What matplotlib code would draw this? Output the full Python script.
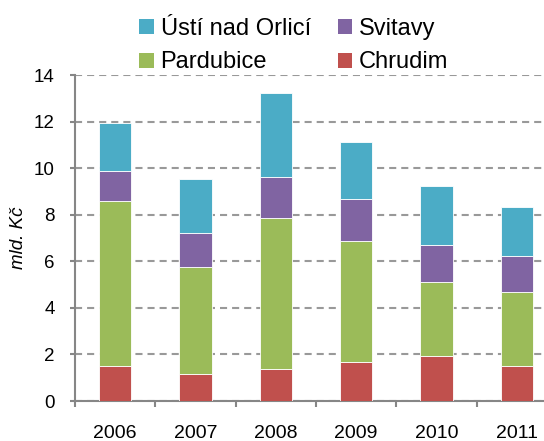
import matplotlib
matplotlib.use("Agg")
import matplotlib.pyplot as plt
from matplotlib.patches import Patch
import numpy as np

plt.rcParams['font.family'] = ['Liberation Sans', 'DejaVu Sans']

years = ["2006", "2007", "2008", "2009", "2010", "2011"]
chrudim = [1.52, 1.17, 1.36, 1.66, 1.92, 1.52]
pardubice = [7.07, 4.57, 6.50, 5.21, 3.18, 3.16]
svitavy = [1.30, 1.46, 1.77, 1.79, 1.61, 1.56]
usti = [2.03, 2.35, 3.59, 2.45, 2.54, 2.10]

series = [
    ("Chrudim", chrudim, "#C0504D"),
    ("Pardubice", pardubice, "#9BBB59"),
    ("Svitavy", svitavy, "#8064A2"),
    ("Ústí nad Orlicí", usti, "#4BACC6"),
]

fig = plt.figure(figsize=(5.44, 4.41), dpi=100)
ax = fig.add_axes([75/544, 40/441, 482/544, 326/441])

x = np.arange(len(years))
bottom = np.zeros(len(years))
handles = {}
for name, vals, col in series:
    ax.bar(x, vals, width=0.4, bottom=bottom, color=col, edgecolor="white",
           linewidth=0.6, zorder=3)
    bottom += np.array(vals)
    handles[name] = Patch(facecolor=col, edgecolor="none")

ax.set_xlim(-0.5, len(years) - 0.5)
ax.set_ylim(0, 14)
ax.set_yticks(np.arange(0, 15, 2))
ax.set_xticks(x)
ax.set_xticklabels(years, fontsize=14)
ax.set_xticks(np.arange(-0.5, len(years), 1), minor=True)
ax.tick_params(axis='x', which='major', length=0, pad=17)
ax.tick_params(axis='x', which='minor', length=4.5, width=1.5, color="#868686", direction='out')
ax.tick_params(axis='y', length=3.6, width=1.5, color="#868686", labelsize=13.5, pad=11)

ax.yaxis.grid(True, linestyle=(0, (3.4, 2.4)), color="#999999", linewidth=1.5, zorder=0)
ax.set_axisbelow(True)

for s in ["top", "right"]:
    ax.spines[s].set_visible(False)
for s in ["left", "bottom"]:
    ax.spines[s].set_color("#868686")
    ax.spines[s].set_linewidth(1.5)

ax.set_ylabel("mld. Kč", fontsize=13.5, style="italic", labelpad=5)

order = ["Ústí nad Orlicí", "Pardubice", "Svitavy", "Chrudim"]
fig.legend([handles[n] for n in order], order, ncol=2, frameon=False,
           fontsize=17, loc="upper left", bbox_to_anchor=(124/544, 0.995),
           handlelength=0.6, handleheight=0.6, handletextpad=0.3,
           columnspacing=1.15, labelspacing=0.5, borderaxespad=0.25)

fig.savefig("out.png", dpi=100)
